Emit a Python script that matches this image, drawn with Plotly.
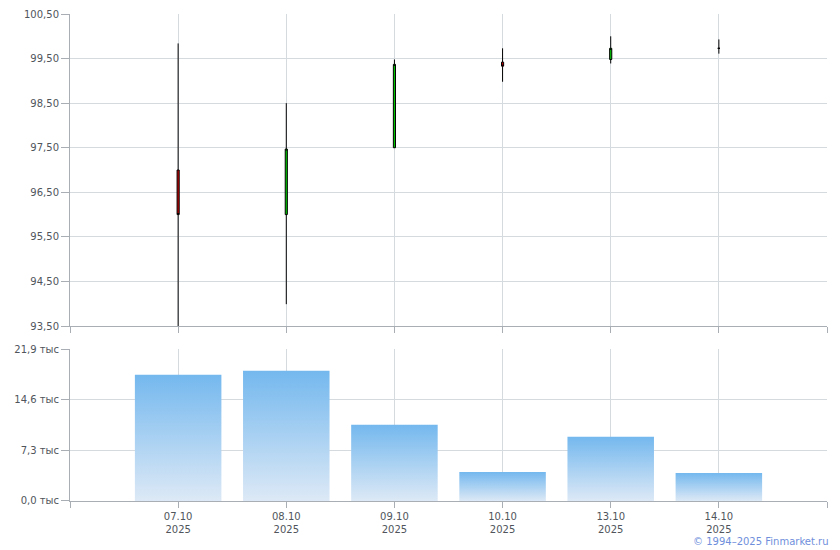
import plotly.graph_objects as go

# ---- data ----
dates = ["07.10<br>2025", "08.10<br>2025", "09.10<br>2025", "10.10<br>2025", "13.10<br>2025", "14.10<br>2025"]
open_ = [97.00, 96.00, 97.50, 99.42, 99.48, 99.73]
high = [99.84, 98.50, 99.48, 99.73, 100.00, 99.93]
low = [93.50, 93.99, 97.50, 98.98, 99.39, 99.61]
close = [96.00, 97.47, 99.37, 99.33, 99.73, 99.73]
volume = [18200, 18760, 10970, 4180, 9240, 4040]

price_ticks = [93.5, 94.5, 95.5, 96.5, 97.5, 98.5, 99.5, 100.5]
vol_ticks = [0, 7300, 14600, 21900]
vol_ticktext = ["0,0 тыс", "7,3 тыс", "14,6 тыс", "21,9 тыс"]

xs = list(range(len(dates)))
FONT = "DejaVu Sans"
GRID = "#d5dadf"
AXIS = "#a9aeb5"
TXT = "#50555c"

fig = go.Figure()

fig.add_trace(go.Candlestick(
    x=xs, open=open_, high=high, low=low, close=close,
    increasing=dict(line=dict(color="black", width=1), fillcolor="#00c800"),
    decreasing=dict(line=dict(color="black", width=1), fillcolor="#cc0000"),
    whiskerwidth=0, showlegend=False, hoverinfo="skip",
    xaxis="x", yaxis="y",
))

bw = 0.4
for xi, v in zip(xs, volume):
    fig.add_trace(go.Scatter(
        x=[xi - bw, xi + bw, xi + bw, xi - bw, xi - bw],
        y=[0, 0, v, v, 0],
        fill="toself", mode="none",
        fillgradient=dict(type="vertical",
                          colorscale=[[0, "#dde9f6"], [1, "#74b8ee"]]),
        showlegend=False, hoverinfo="skip",
        xaxis="x2", yaxis="y2",
    ))

tickvals_x = list(range(-1, len(dates) + 1))
ticktext_x = [""] + dates + [""]

common_x = dict(
    range=[-1, len(dates)], tickmode="array", tickvals=tickvals_x,
    showgrid=True, gridcolor=GRID, gridwidth=1,
    showline=True, linecolor=AXIS, linewidth=1,
    ticks="outside", ticklen=6, tickcolor=AXIS, tickwidth=1,
    zeroline=False, fixedrange=True, automargin=False,
)

fig.update_layout(
    width=840, height=550,
    margin=dict(l=70, r=13, t=14, b=49, pad=0),
    paper_bgcolor="white", plot_bgcolor="white",
    separators=", ",
    boxgap=0.972,
    font=dict(family=FONT, size=10, color=TXT),
    xaxis=dict(**common_x, anchor="y", domain=[0, 1], showticklabels=False,
               ticktext=ticktext_x, rangeslider=dict(visible=False)),
    yaxis=dict(domain=[0.3593, 1], range=[93.5, 100.5], tickmode="array",
               tickvals=price_ticks, tickformat=".2f", automargin=False,
               showgrid=True, gridcolor=GRID, showline=True, linecolor=AXIS,
               ticks="outside", ticklen=8, tickcolor=AXIS, zeroline=False),
    xaxis2=dict(**common_x, anchor="y2", domain=[0, 1], ticktext=ticktext_x,
                tickfont=dict(family=FONT, size=10, color=TXT)),
    yaxis2=dict(domain=[0, 0.3121], range=[0, 21900], tickmode="array",
                tickvals=vol_ticks, ticktext=vol_ticktext, automargin=False,
                showgrid=True, gridcolor=GRID, showline=True, linecolor=AXIS,
                ticks="outside", ticklen=8, tickcolor=AXIS, zeroline=False),
    annotations=[dict(
        text="© 1994–2025 Finmarket.ru", xref="paper", yref="paper",
        x=1, y=-0.084, xanchor="right", yanchor="middle", xshift=4,
        showarrow=False, font=dict(family=FONT, size=10, color="#6f8fdc"),
    )],
)

fig.write_html("out.html", config={"displayModeBar": False},
               post_script="document.body.style.margin='0';document.body.style.padding='0';")
